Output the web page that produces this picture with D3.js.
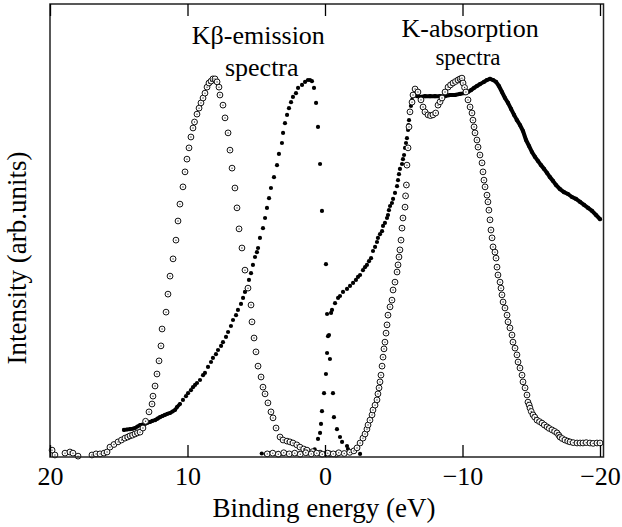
<!DOCTYPE html>
<html><head><meta charset="utf-8">
<script src="https://cdn.jsdelivr.net/npm/d3@7"></script>
<style>
body{margin:0;background:#fff}
svg{display:block}
</style>
</head><body><svg id="c" width="622" height="527"></svg>
<script>
// ---- data (energy in eV, intensity in arb. units, peak ~100) ----
const xTicks = [20, 10, 0, -10, -20];
const xTickLabels = ["20", "10", "0", "\u221210", "\u221220"];

// Kβ-emission, open circles (left peak)
const kbEmissionOpen = [
[19.85,1.3],[19.64,0],[18.91,0.5],[18.55,0.8],[18.33,0.5],[17.96,-0.3],[16.95,0],[16.65,0.3],[16.36,0.3],[16.07,0.5],[15.85,0.8],[15.64,2.1],[15.35,2.8],[15.05,3.5],[14.8,4.0],[14.55,4.5],[14.35,4.8],[14.18,5.1],[14.0,5.3],[13.82,5.6],[13.64,5.9],[13.45,6.1],[13.24,7.2],[13.05,9.0],[12.8,11.5],[12.58,13.6],[12.51,15.7],[12.36,18.4],[12.22,21.6],[12.07,25.1],[11.93,29.1],[11.85,33.6],[11.56,38.1],[11.42,42.9],[11.27,47.7],[11.05,52.3],[10.84,57.3],[10.69,62.4],[10.55,66.9],[10.33,71.5],[10.18,75.5],[10.04,78.9],[9.89,81.9],[9.75,84.8],[9.6,87.2],[9.49,88.8],[9.31,90.9],[9.16,92.5],[9.02,93.9],[8.87,95.2],[8.73,96.5],[8.58,98.1],[8.44,99.2],[8.29,99.7],[8.15,100.3],[8.0,100.3],[7.85,99.5],[7.71,98.1],[7.64,96.0],[7.42,93.3],[7.27,89.9],[7.05,85.9],[6.91,81.3],[6.76,76.5],[6.55,71.2],[6.4,65.9],[6.25,60.3],[6.04,55.2],[5.82,49.3],[5.6,44.5],[5.38,40.0],[5.31,35.5],[5.16,31.2],[5.02,27.5],[4.87,23.7],[4.65,20.8],[4.51,18.1],[4.36,16.3],[4.15,13.9],[3.93,11.5],[3.78,9.9],[3.56,7.2],[3.27,4.8],[3.05,4.0],[2.76,3.7],[2.55,3.5],[2.33,3.2],[2.05,2.7],[1.82,2.1],[1.55,1.6],[1.31,1.3],[0.9,0.9],[0.36,0.5],[-0.1,0.3],[-0.36,0.3],[-0.8,0.2]
];

// Kβ-emission, filled dots (right peak)
const kbEmissionFilled = [
[14.62,6.7],[14.4,6.8],[14.18,6.9],[14.0,7.0],[13.82,7.2],[13.64,7.6],[13.45,8.0],[13.27,8.1],[13.09,8.3],[12.91,8.6],[12.73,8.8],[12.55,9.1],[12.36,9.3],[12.18,9.7],[12.0,10.1],[11.82,10.4],[11.64,10.7],[11.45,11.0],[11.27,11.2],[11.09,11.6],[10.91,12.0],[10.76,12.8],[10.55,13.6],[10.33,14.7],[10.11,15.7],[9.96,16.5],[9.75,17.3],[9.6,18.1],[9.45,18.7],[9.31,19.2],[9.09,20.0],[8.87,21.3],[8.73,21.9],[8.51,23.5],[8.29,24.8],[8.15,25.9],[7.93,26.9],[7.78,28.0],[7.56,29.1],[7.42,30.1],[7.2,31.5],[7.05,32.8],[6.84,34.4],[6.69,36.0],[6.47,37.3],[6.33,38.7],[6.11,40.3],[5.96,41.9],[5.82,43.5],[5.67,44.5],[5.53,46.7],[5.38,48.5],[5.24,50.7],[5.09,52.8],[4.95,54.1],[4.87,55.2],[4.73,57.9],[4.51,60.5],[4.36,63.2],[4.22,65.9],[4.07,68.5],[3.93,71.2],[3.71,74.1],[3.49,77.3],[3.35,80.3],[3.13,83.2],[3.05,85.9],[2.91,88.5],[2.76,90.7],[2.62,92.5],[2.47,94.1],[2.33,95.5],[2.11,96.5],[1.96,97.9],[1.67,98.7],[1.45,99.5],[1.24,100],[1.09,100],[0.95,99.7],[0.8,97.9],[0.65,93.9],[0.51,87.5],[0.36,77.6],[0.22,65.1],[-0.07,50.9],[-0.15,37.6],[-0.22,31.7],[-0.36,25.6],[-0.58,16.5],[-0.65,10.1],[-0.87,6.9],[-1.09,4.8],[-1.24,3.5],[-1.6,2.4],[-1.67,1.6],[-1.96,0.8],[-2.55,0.3]
];

// K-absorption, open circles
const kAbsorptionOpen = [
[4.2,0.3],[3.8,0.5],[3.4,0.2],[3.0,0.6],[2.6,0.3],[2.2,0.5],[1.8,0.2],[1.4,0.6],[1.0,0.3],[0.6,0.5],[0.2,0.2],[-0.2,0.5],[-0.6,0.3],[-1.0,0.6],[-1.4,0.4],[-1.8,0.7],[-2.1,1.1],
[-2.33,1.9],[-2.55,3.2],[-2.76,4.5],[-2.91,5.6],[-3.05,6.9],[-3.13,8.0],[-3.27,9.3],[-3.42,10.7],[-3.49,12.0],[-3.64,13.3],[-3.78,14.7],[-3.85,16.3],[-3.93,17.9],[-4.0,19.5],[-4.07,21.3],[-4.15,23.7],[-4.22,26.1],[-4.29,28.3],[-4.36,30.1],[-4.44,32.5],[-4.51,34.7],[-4.58,37.3],[-4.73,39.5],[-4.87,41.3],[-4.95,44.0],[-5.09,46.1],[-5.24,48.8],[-5.31,50.7],[-5.38,52.8],[-5.45,54.7],[-5.53,57.3],[-5.6,60.5],[-5.67,63.2],[-5.82,66.1],[-5.86,69.1],[-5.92,72.0],[-5.96,77.3],[-6.04,81.9],[-6.11,87.5],[-6.18,91.5],[-6.33,94.1],[-6.4,96.0],[-6.55,97.6],[-6.76,96.8],[-6.98,94.7],[-7.13,92.8],[-7.27,91.5],[-7.49,90.7],[-7.67,90.5],[-7.85,90.7],[-8.05,91.2],[-8.22,93.3],[-8.37,94.2],[-8.51,95.2],[-8.73,96.8],[-8.95,98.1],[-9.13,98.7],[-9.31,99.2],[-9.49,99.6],[-9.67,100],[-9.82,100.3],[-9.96,100.5],[-10.04,99.2],[-10.15,98],[-10.25,96.8],[-10.4,94.7],[-10.55,92.8],[-10.69,91.2],[-10.76,89.3],[-10.84,87.5],[-10.91,85.9],[-11.05,84.0],[-11.13,82.1],[-11.27,80.0],[-11.42,77.9],[-11.49,75.5],[-11.56,73.3],[-11.64,71.5],[-11.78,69.3],[-11.85,67.5],[-11.92,65.3],[-12.0,62.7],[-12.07,60.0],[-12.15,57.9],[-12.22,55.5],[-12.36,54.1],[-12.44,52.5],[-12.51,50.1],[-12.58,48.0],[-12.73,46.1],[-12.8,44.5],[-12.87,42.7],[-12.95,40.8],[-13.09,39.2],[-13.24,37.3],[-13.31,35.5],[-13.45,33.9],[-13.6,32.0],[-13.67,30.1],[-13.82,28.5],[-13.96,26.7],[-14.04,24.8],[-14.18,23.2],[-14.33,21.3],[-14.4,19.5],[-14.55,17.9],[-14.69,16.0],[-14.76,14.1],[-14.85,13.3],[-14.91,12.5],[-15.0,11.6],[-15.13,10.7],[-15.25,10.1],[-15.42,9.3],[-15.6,8.9],[-15.78,8.5],[-15.95,8.0],[-16.15,7.5],[-16.3,7.1],[-16.51,6.7],[-16.7,6.3],[-16.87,5.9],[-17.0,5.3],[-17.09,4.8],[-17.25,4.4],[-17.45,4.0],[-17.65,3.7],[-17.82,3.5],[-18.05,3.3],[-18.33,3.2],[-18.55,3.2],[-18.76,3.2],[-19.0,3.3],[-19.27,3.2],[-19.5,3.1],[-19.78,3.2],[-20.0,3.2]
];

// K-absorption, filled dots
const kAbsorptionFilled = [
[4.6,0.4],[4.3,0.2],[4.0,0.5],[3.7,0.3],[3.4,0.6],[3.1,0.3],[2.8,0.5],[2.5,0.2],[2.2,0.6],[1.9,0.4],[1.6,0.7],[1.3,0.4],[1.0,0.8],[0.75,1.5],
[0.51,4.3],[0.36,5.9],[0.29,8.3],[0.22,11.7],[0.07,16.5],[-0.07,21.6],[-0.15,27.2],[-0.29,32.0],[-0.44,37.9],
[-0.51,38.7],[-0.73,40.5],[-0.95,41.9],[-1.09,42.4],[-1.31,43.5],[-1.6,44.3],[-1.82,45.1],[-2.04,45.9],[-2.25,46.7],[-2.4,47.5],[-2.55,48.0],[-2.76,49.3],[-2.91,50.1],[-3.05,50.7],[-3.2,51.7],[-3.35,52.5],[-3.49,54.4],[-3.64,55.5],[-3.78,56.8],[-3.85,57.9],[-4.0,58.9],[-4.15,59.7],[-4.22,61.1],[-4.36,61.9],[-4.51,63.2],[-4.58,64.0],[-4.65,65.3],[-4.73,66.4],[-4.87,67.2],[-4.95,68.3],[-5.09,69.9],[-5.24,71.7],[-5.31,73.3],[-5.38,74.9],[-5.45,76.3],[-5.6,77.6],[-5.67,78.9],[-5.75,80.0],[-5.82,81.9],[-5.89,83.2],[-5.96,84.5],[-6.04,86.7],[-6.07,88.0],[-6.11,89.3],[-6.18,91.5],[-6.25,93.1],[-6.33,94.7],[-6.4,96.0],[-6.55,96.5],[-6.69,95.7],[-6.91,95.5],[-7.27,95.7],[-7.64,95.7],[-8.0,95.7],[-8.36,95.7],[-8.73,95.7],[-9.09,96.0],[-9.45,96.0],[-9.82,96.3],[-10.18,96.5],[-10.4,96.8],[-10.62,97.3],[-10.84,97.9],[-11.05,98.4],[-11.27,98.9],[-11.56,99.5],[-11.78,100],[-12.0,100.3],[-12.22,100],[-12.44,99.5],[-12.65,98.4],[-12.87,96.8],[-13.09,95.2],[-13.31,93.9],[-13.53,92.3],[-13.75,90.7],[-13.96,89.3],[-14.18,88.0],[-14.4,86.4],[-14.62,84.0],[-14.84,82.4],[-15.05,80.8],[-15.27,79.5],[-15.49,78.4],[-15.71,77.3],[-15.93,76.3],[-16.15,75.2],[-16.36,74.1],[-16.58,73.1],[-16.8,72.0],[-17.09,70.9],[-17.38,70.1],[-17.67,69.6],[-17.96,68.8],[-18.25,68.3],[-18.55,67.5],[-18.84,66.7],[-19.13,65.9],[-19.42,65.1],[-19.71,64.0],[-20.0,62.9]
];

const annotations = [
  {text: "K\u03b2-emission", e: 4.85, i: 109.5, size: 26},
  {text: "spectra",       e: 4.6, i: 101.0, size: 26},
  {text: "K-absorption",  e: -10.55, i: 111.5, size: 26},
  {text: "spectra",       e: -10.4, i: 104.0, size: 23}
];

const SERIF = '"Liberation Serif", "Times New Roman", Times, "Nimbus Roman", "DejaVu Serif", serif';

// ---- layout ----
const svg = d3.select("#c");
const frameL = 50, frameR = 603.5, frameT = 4, frameB = 457;
const x = d3.scaleLinear().domain([20, -20]).range([50, 600]);
const y = d3.scaleLinear().domain([0, 100]).range([455, 80]);

const plot = svg.append("g");

// filled series: dense stretches also get a thick connecting stroke
const line = d3.line().x(d => x(d[0])).y(d => y(d[1]));
plot.append("path").datum(kAbsorptionFilled.filter(d => d[0] <= -6.4))
  .attr("d", line).attr("fill", "none").attr("stroke", "#000")
  .attr("stroke-width", 4).attr("stroke-linejoin", "round").attr("stroke-linecap", "round");
plot.append("path").datum(kbEmissionFilled.filter(d => d[0] >= 10.5))
  .attr("d", line).attr("fill", "none").attr("stroke", "#000")
  .attr("stroke-width", 3.6).attr("stroke-linejoin", "round").attr("stroke-linecap", "round");

function dots(data) {
  plot.append("g").selectAll("circle").data(data).join("circle")
    .attr("cx", d => x(d[0])).attr("cy", d => y(d[1])).attr("r", 2.1).attr("fill", "#000");
}
function rings(data) {
  const g = plot.append("g");
  g.selectAll("circle.o").data(data).join("circle").attr("class", "o")
    .attr("cx", d => x(d[0])).attr("cy", d => y(d[1])).attr("r", 2.9)
    .attr("fill", "#fff").attr("stroke", "#111").attr("stroke-width", 1);
  g.selectAll("circle.c").data(data).join("circle").attr("class", "c")
    .attr("cx", d => x(d[0])).attr("cy", d => y(d[1])).attr("r", 0.7).attr("fill", "#333");
}
dots(kAbsorptionFilled);
dots(kbEmissionFilled);
rings(kbEmissionOpen);
rings(kAbsorptionOpen);

// frame
svg.append("rect").attr("x", frameL).attr("y", frameT).attr("width", frameR - frameL).attr("height", frameB - frameT)
  .attr("fill", "none").attr("stroke", "#222").attr("stroke-width", 1.5);

// axes
const fmt = (d, i) => xTickLabels[i];
const ax = svg.append("g").attr("transform", `translate(0,${frameB})`)
  .call(d3.axisBottom(x).tickValues(xTicks).tickSize(-12).tickPadding(9.5).tickFormat(fmt));
ax.attr("font-family", null).attr("font-size", null);
ax.select(".domain").remove();
ax.selectAll(".tick line").attr("stroke", "#000").attr("stroke-width", 1.3);
ax.selectAll(".tick text").style("font-family", SERIF).style("font-size", "26px").attr("fill", "#000");

const axT = svg.append("g").attr("transform", `translate(0,${frameT})`)
  .call(d3.axisTop(x).tickValues(xTicks).tickSize(-12).tickFormat(""));
axT.select(".domain").remove();
axT.selectAll(".tick line").attr("stroke", "#000").attr("stroke-width", 1.3);

// titles
svg.append("text").attr("x", 324).attr("y", 517).attr("text-anchor", "middle")
  .style("font-family", SERIF).style("font-size", "27px").text("Binding energy (eV)");
svg.append("text").attr("transform", "translate(26,258) rotate(-90)").attr("text-anchor", "middle")
  .style("font-family", SERIF).style("font-size", "27px").text("Intensity (arb.units)");

// annotations
svg.append("g").selectAll("text").data(annotations).join("text")
  .attr("x", d => x(d.e)).attr("y", d => y(d.i)).attr("text-anchor", "middle")
  .style("font-family", SERIF).style("font-size", d => d.size + "px").text(d => d.text);
</script>
</body></html>
